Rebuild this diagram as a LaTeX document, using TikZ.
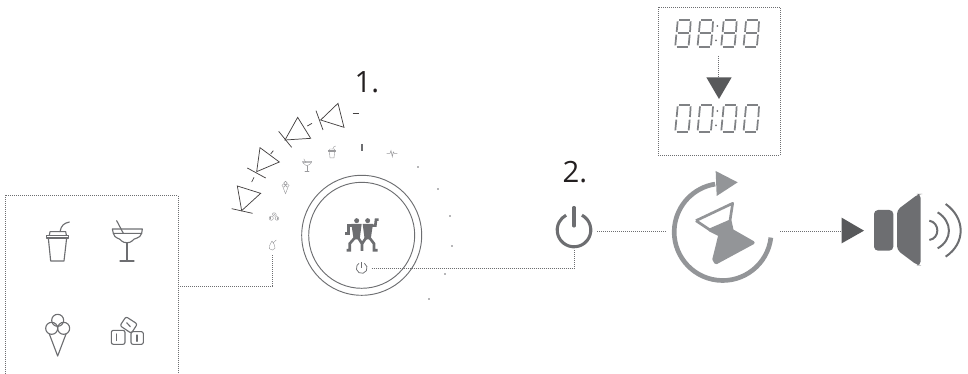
\documentclass[tikz,border=0pt]{standalone}
\usetikzlibrary{calc}
\usepackage{fontspec}
\setmainfont{Open Sans}
\definecolor{icon}{HTML}{6D6E71}
\definecolor{ringgray}{HTML}{939598}
\definecolor{tri}{HTML}{58595B}
\definecolor{seg}{HTML}{808285}
\definecolor{ink}{HTML}{231F20}
\tikzset{
  dotline/.style={draw=icon,line width=0.55pt,dash pattern=on 0.5pt off 1pt},
  ico/.style={draw=icon,line width=0.85pt,line join=round,line cap=round},
  icosmall/.style={draw=icon!70,line width=0.32pt,line join=round,line cap=round},
  diode/.style={draw=ink!85,line width=0.55pt,line join=miter},
  segline/.style={draw=seg,line width=1.3pt},
  label/.style={font=\fontsize{22}{24}\selectfont,text=ink,inner sep=0pt},
  dotmark/.style={fill=icon,draw=none,circle,minimum size=1.4pt,inner sep=0pt},
  logoline/.style={draw=icon,line width=2pt,line join=miter},
}
\newcommand{\iconCup}[1]{%
  \draw[#1] (148,165)--(150,155)--(197,155)--(199,165);
  \draw[#1] (139,167)--(205,167)--(205,174)--(139,174)--cycle;
  \draw[#1] (145,174)--(152,243)--(192,243)--(200,174);
  \draw[#1] (180,155) .. controls (184,135) and (192,130) .. (208,126);
}
\newcommand{\iconGlass}[1]{%
  \draw[#1] (337,147)--(427,147)--(425,160)--(340,160)--cycle;
  \draw[#1] (340,160) .. controls (345,178) and (358,172) .. (365,183) .. controls (372,190) and (390,190) .. (396,183) .. controls (402,172) and (420,178) .. (425,160);
  \draw[#1] (381,190)--(381,243);
  \draw[#1] (360,243)--(402,243);
  \draw[#1] (350,122)--(370,160);
}
\newcommand{\iconCream}[1]{%
  \draw[#1] (173,421) circle (18);
  \draw[#1] (155,445) circle (18);
  \draw[#1] (191,445) circle (18);
  \draw[#1] (148,462)--(173,528)--(198,462);
}
\newcommand{\iconCubes}[1]{%
  \draw[#1,rounded corners=1.5pt] (334,451) rectangle (375,493);
  \draw[#1,rounded corners=1.5pt] (393,455) rectangle (430,493);
  \draw[#1,rounded corners=1.5pt] (378,410)--(412,432)--(394,460)--(360,437)--cycle;
  \draw[#1] (349,462)--(349,482);
  \draw[#1] (411,465)--(411,484);
  \draw[#1] (380,428)--(391,440);
}
\newcommand{\digitBase}[2]{%
  \begin{scope}[shift={(#1,#2)}]
  \draw[segline] (12,60)--(44,60);
  \draw[segline] (5,140)--(38,140);
  \draw[segline] (8,64)--(5,96);
  \draw[segline] (4,104)--(1,136);
  \draw[segline] (47,64)--(45,96);
  \draw[segline] (44,104)--(41,136);
  \end{scope}}
\newcommand{\digitEight}[2]{\digitBase{#1}{#2}\begin{scope}[shift={(#1,#2)}]\draw[segline] (9,100)--(41,100);\end{scope}}
\begin{document}
\begin{tikzpicture}[x=0.75pt,y=-0.75pt]
\useasboundingbox (0,0) rectangle (968,374);
% panel of drinks
\draw[dotline] (5,374)--(5,195.3)--(178,195.3)--(178,374);
\begin{scope}[shift={(0,180)},scale=1/3]
  \iconCup{ico}\iconGlass{ico}\iconCream{ico}\iconCubes{ico}
\end{scope}
% small icons on the dial
\begin{scope}[shift={(332,152)},scale=0.1,shift={(-172,-185)}]\iconCup{icosmall}\end{scope}
\begin{scope}[shift={(307,165)},scale=0.1,shift={(-381,-183)}]\iconGlass{icosmall}\end{scope}
\begin{scope}[shift={(285.5,187.5)},scale=0.1,shift={(-173,-465)}]\iconCream{icosmall}\end{scope}
\begin{scope}[shift={(274,216)},scale=0.1,shift={(-382,-450)}]\iconCubes{icosmall}\end{scope}
\begin{scope}[shift={(0,180)},scale=1/3]
  \draw[icosmall] (816,183) .. controls (809,195) and (806,202) .. (808,206) .. controls (812,212) and (822,212) .. (825,205) .. controls (827,200) and (822,192) .. (816,183);
  \draw[icosmall] (820,188)--(829,180);
\end{scope}
% connector drinks to dial
\coordinate (panelR) at (178,286.7);
\coordinate (dropB) at (272.7,255);
\draw[dotline] (panelR)-|(dropB);
% diodes
\begin{scope}[shift={(220,60)},scale=1/3]
  \draw[diode] (52,378)--(122,400)--(65,452)--cycle;
  \draw[diode] (35,446)--(98,460);
  \draw[diode] (95,366)--(102,352);
  \draw[diode] (120,263)--(178,306)--(110,335)--cycle;
  \draw[diode] (82,324)--(137,354);
  \draw[diode] (152,282)--(160,272);
  \draw[diode] (233,172)--(272,235)--(195,240)--cycle;
  \draw[diode] (176,214)--(215,262);
  \draw[diode] (262,198)--(276,190);
  \draw[diode] (354,130)--(372,202)--(302,180)--cycle;
  \draw[diode] (288,152)--(309,210);
  \draw[diode] (398,161)--(416,161);
  \draw[draw=icon,line width=0.9pt] (426,252)--(426,274);
  \draw[draw=icon!70,line width=0.4pt] (500,280)--(510,280)--(513,272)--(517,290)--(520,276)--(523,280)--(532,280);
\end{scope}
% dots
\foreach \n/\p in {a/{(418,167)},b/{(438,189)},c/{(450,216)},d/{(452,246)},e/{(445,274)},f/{(429,299)}}
  \node[dotmark] (dot\n) at \p {};
% dial
\coordinate (dial) at (361.7,235.3);
\draw[draw=icon,line width=0.7pt] (dial) circle (60);
\draw[draw=icon,line width=0.7pt] (dial) circle (53);
% logo
\begin{scope}[shift={(290,170)},scale=1/3]
  \fill[icon] (200,152) circle (7.5) (233,152) circle (7.5);
  \fill[icon] (184,162)--(215,162)--(209,208)--(191,208)--cycle;
  \fill[icon] (218,162)--(249,162)--(242,208)--(224,208)--cycle;
  \draw[logoline] (190,167)--(175,167)--(175,190)--(165,190);
  \draw[logoline] (243,167)--(256,167)--(258,149)--(266,149);
  \draw[logoline] (194,204)--(179,221)--(179,241)--(170,241);
  \draw[logoline] (205,204)--(216,221)--(216,243);
  \draw[logoline] (228,204)--(216,221);
  \draw[logoline] (239,204)--(252,221)--(252,241)--(263,241);
\end{scope}
% small power
\coordinate (pwrS) at (361.7,268);
\draw[draw=icon,line width=0.55pt] (361.7,262)--(361.7,268.5);
\draw[draw=icon,line width=0.55pt] ($(pwrS)+(-60:5.4)$) arc[start angle=-60,end angle=240,radius=5.4];
% big power
\coordinate (pwrB) at (574,230);
\draw[draw=icon,line width=2.3pt,line cap=round] (574,207.5)--(574,226);
\draw[draw=icon,line width=2.3pt] ($(pwrB)+(-62:16.8)$) arc[start angle=-62,end angle=242,radius=16.8];
% connectors
\coordinate (pwrSr) at (371.7,268.3);
\coordinate (pwrBb) at (574.3,250);
\draw[dotline] (pwrSr)-|(pwrBb);
\coordinate (pwrBr) at (597.3,231);
\coordinate (timerL) at (666,231);
\draw[dotline] (pwrBr)--(timerL);
% labels
\node[label] (one) at (367,82) {1.};
\node[label] (two) at (575,172) {2.};
% display box
\draw[dotline] (658.3,7.3) rectangle (780,155.3);
\begin{scope}[shift={(540,0)},scale=1/3]
  \foreach \x in {405,472,543,610}{\digitEight{\x}{0}\digitBase{\x}{255}}
  \foreach \p in {(532,78),(528,121),(532,333),(528,376)}
    \fill[icon] \p circle (3);
  \coordinate (dispT) at (535,168);
  \coordinate (dispA) at (535,232);
  \draw[dotline] (dispT)--(dispA);
  \fill[tri] (499,232)--(575,232)--(537,297)--cycle;
\end{scope}
% timer
\coordinate (timer) at (722.7,232);
\draw[draw=ringgray,line width=3.5pt] ($(timer)+(6.6:48.5)$) arc[start angle=6.6,end angle=261,radius=48.5];
\begin{scope}[shift={(540,155)},scale=1/3]
  \fill[ringgray] (527,48)--(593,82)--(530,123)--cycle;
\end{scope}
\begin{scope}[shift={(680,190)},scale=1/3]
  \draw[draw=ringgray,line width=2pt,line join=round] (48,92)--(158,40)--(150,92);
  \draw[draw=ringgray,line width=2pt,line join=round] (48,92)--(90,120);
  \filldraw[draw=ringgray,fill=ringgray,line width=2.5pt,line join=round] (90,120)--(150,94)--(156,122)--(219,158)--(108,218)--(102,208)--(120,135)--cycle;
\end{scope}
% speaker
\coordinate (timerR) at (780,231);
\coordinate (spkA) at (841.7,231);
\draw[dotline] (timerR)--(spkA);
\begin{scope}[shift={(770,180)},scale=1/3]
  \fill[tri] (215,113)--(282,152)--(215,190)--cycle;
  \fill[icon,rounded corners=3pt] (312,90) rectangle (370,212);
  \fill[icon,rounded corners=3pt] (381,90)--(445,42)--(452,42)--(452,256)--(442,256)--(381,210)--cycle;
  \draw[draw=icon,line width=1.5pt] (478,122) .. controls (510,128) and (510,175) .. (478,180);
  \draw[draw=icon,line width=1.5pt] (503,97) .. controls (548,125) and (548,180) .. (503,205);
  \draw[draw=icon,line width=1.5pt] (527,72) .. controls (587,115) and (587,190) .. (527,230);
\end{scope}
\end{tikzpicture}
\end{document}
